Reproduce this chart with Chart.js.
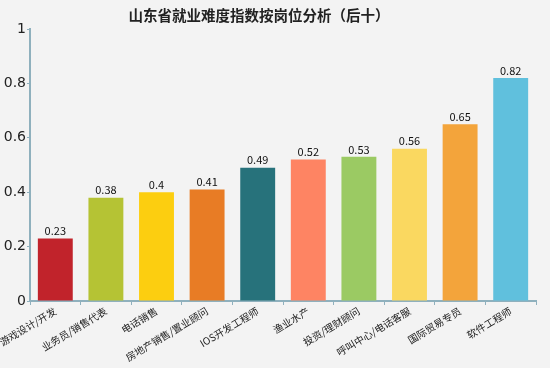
<!DOCTYPE html>
<html>
<head>
<meta charset="utf-8">
<script src="https://cdn.jsdelivr.net/npm/chart.js@4/dist/chart.umd.min.js"></script>
<style>
	html, body { margin: 0; padding: 0; background: #f3f3f3; }
	#wrap { width: 550px; height: 368px; }
</style>
</head>
<body>
<div id="wrap"><canvas id="jobs-chart" width="550" height="368"></canvas></div>
<script>
// data
const titleText = '山东省就业难度指数按岗位分析（后十）';
const positions = ['游戏设计/开发', '业务员/销售代表', '电话销售', '房地产销售/置业顾问', 'IOS开发工程师',
	'渔业水产', '投资/理财顾问', '呼叫中心/电话客服', '国际贸易专员', '软件工程师'];
const difficulty = [0.23, 0.38, 0.4, 0.41, 0.49, 0.52, 0.53, 0.56, 0.65, 0.82];
const yTicks = [0, 0.2, 0.4, 0.6, 0.8, 1];
const barColors = ['#c1232b', '#b5c334', '#fcce10', '#e87c25', '#27727b',
	'#fe8463', '#9bca63', '#fad860', '#f3a43b', '#60c0dd'];

const fontCJK = '"Noto Sans CJK SC", "Noto Sans", sans-serif';

// title + value labels on top of bars
const extrasPlugin = {
	id: 'extras',
	afterDatasetsDraw(chart) {
		const c = chart.ctx;
		c.save();
		c.fillStyle = '#222';
		c.font = 'bold 14.5px ' + fontCJK;
		c.textAlign = 'center';
		c.textBaseline = 'middle';
		c.fillText(titleText, 259, 15);

		c.font = '11px ' + fontCJK;
		c.fillStyle = '#111';
		c.textBaseline = 'bottom';
		chart.getDatasetMeta(0).data.forEach(function (bar, i) {
			c.fillText(String(difficulty[i]), bar.x, bar.y - 2);
		});
		c.restore();
	}
};

const bgPlugin = {
	id: 'bg',
	beforeDraw(chart) {
		const c = chart.ctx;
		c.save();
		c.fillStyle = '#f3f3f3';
		c.fillRect(0, 0, chart.width, chart.height);
		c.restore();
	}
};

new Chart(document.getElementById('jobs-chart'), {
	type: 'bar',
	data: {
		labels: positions,
		datasets: [{
			data: difficulty,
			backgroundColor: barColors,
			borderWidth: 0,
			barPercentage: 0.69,
			categoryPercentage: 1
		}]
	},
	options: {
		responsive: false,
		animation: false,
		layout: { padding: { top: 29, right: 14, left: 0, bottom: 0 } },
		plugins: {
			legend: { display: false },
			tooltip: { enabled: false }
		},
		scales: {
			x: {
				grid: {
					display: true,
					drawOnChartArea: false,
					offset: true,
					color: '#8fb0bd',
					tickLength: 4
				},
				border: { color: '#8fb0bd', width: 2 },
				ticks: {
					color: '#222',
					font: { family: fontCJK, size: 10 },
					maxRotation: 31,
					minRotation: 31,
					padding: 0
				},
				afterFit(scale) {
					scale.height = 67;
					scale.paddingLeft = 0;
					scale.paddingRight = 0;
				}
			},
			y: {
				min: 0,
				max: 1,
				afterBuildTicks(scale) {
					scale.ticks = yTicks.map(function (v) { return { value: v }; });
				},
				grid: {
					display: true,
					drawOnChartArea: false,
					color: '#8fb0bd',
					tickLength: 3
				},
				border: { color: '#8fb0bd', width: 2 },
				ticks: {
					color: '#222',
					font: { family: '"DejaVu Sans", sans-serif', size: 14 },
					padding: 1,
					callback: function (v) { return String(v); }
				},
				afterFit(scale) { scale.width = 30; }
			}
		}
	},
	plugins: [bgPlugin, extrasPlugin]
});
</script>
</body>
</html>
